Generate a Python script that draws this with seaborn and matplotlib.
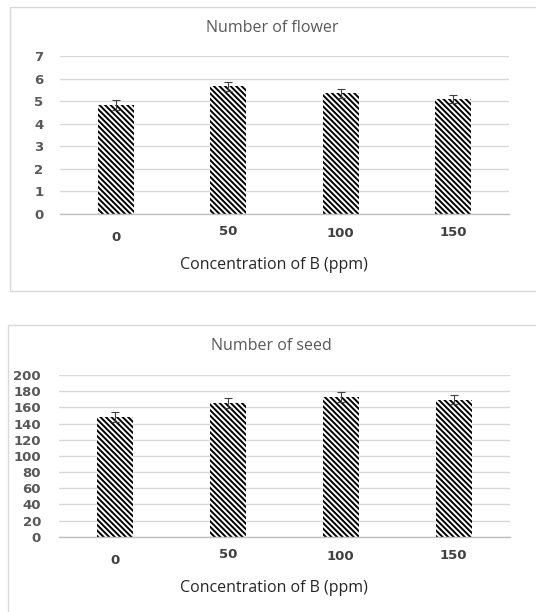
import matplotlib
matplotlib.use("Agg")
import matplotlib.pyplot as plt
import seaborn as sns
import pandas as pd
from matplotlib.patches import Rectangle
from matplotlib.transforms import ScaledTranslation

# Boron concentration treatments (ppm)
concentrations = ["0", "50", "100", "150"]

# Number of flowers: means and standard errors
flower_mean = [4.82, 5.66, 5.35, 5.09]
flower_err = [0.21, 0.21, 0.21, 0.17]

# Number of seeds: means and standard errors
seed_mean = [147.7, 165.4, 172.8, 169.5]
seed_err = [6.2, 6.0, 6.2, 5.8]

sns.set_theme(style="white")
plt.rcParams["font.family"] = ["Open Sans", "DejaVu Sans"]
plt.rcParams["hatch.color"] = "black"
plt.rcParams["hatch.linewidth"] = 1.4

W, H = 536, 612
fig = plt.figure(figsize=(W / 100, H / 100), dpi=100)
fig.patch.set_facecolor("white")

# panel frames
fig.add_artist(Rectangle((10 / W, 1 - 291 / H), 1.0, (291 - 7) / H,
                         transform=fig.transFigure, fill=False,
                         edgecolor="#d9d9d9", lw=1))
fig.add_artist(Rectangle((8 / W, -0.05), 1.0, 0.05 + 1 - 325 / H,
                         transform=fig.transFigure, fill=False,
                         edgecolor="#d9d9d9", lw=1))

tick_font = dict(family="DejaVu Sans", weight="bold", size=9.5)


def panel(rect, means, errs, ymax, ystep, title, title_pad, ylabel_pad):
    ax = fig.add_axes(rect)
    df = pd.DataFrame({"conc": concentrations, "value": means})
    sns.barplot(data=df, x="conc", y="value", order=concentrations,
                color="white", edgecolor="black", linewidth=0,
                hatch="\\\\\\\\\\\\", width=0.32, errorbar=None, ax=ax,
                zorder=2)
    ax.errorbar(range(len(means)), means, yerr=errs, fmt="none",
                ecolor="#3f3f3f", elinewidth=0.8, capsize=3.2,
                capthick=0.8, zorder=3)
    ax.set_xlim(-0.5, len(means) - 0.5)
    ax.set_ylim(0, ymax)
    ax.set_yticks(range(0, ymax + 1, ystep))
    ax.yaxis.grid(True, color="#d9d9d9", lw=1)
    ax.set_axisbelow(True)
    for s in ("top", "right", "left"):
        ax.spines[s].set_visible(False)
    ax.spines["bottom"].set_color("#bfbfbf")
    ax.spines["bottom"].set_linewidth(1)
    ax.set_xticks([i - 0.5 for i in range(len(means) + 1)], minor=True)
    ax.tick_params(axis="x", which="minor", length=4, color="#bfbfbf",
                   direction="out", width=1)
    ax.tick_params(axis="x", which="major", length=0, pad=8,
                   labelcolor="#404040")
    ax.tick_params(axis="y", length=0, pad=ylabel_pad,
                   labelcolor="#595959")
    for lbl in ax.get_xticklabels() + ax.get_yticklabels():
        lbl.set(**tick_font)
    for lbl, dy in zip(ax.get_xticklabels(), [6, 0, 2, 1]):
        lbl.set_transform(lbl.get_transform() +
                          ScaledTranslation(0, -dy / 100, fig.dpi_scale_trans))
    ax.set_title(title, x=0.472, pad=title_pad, fontsize=11.5,
                 color="#595959")
    ax.set_ylabel("")
    ax.set_xlabel("Concentration of B (ppm)", fontsize=11.5, color="#262626")
    ax.xaxis.set_label_coords(0.477, -0.27)
    return ax


panel([60 / W, 1 - 214 / H, 449 / W, 158 / H], flower_mean, flower_err,
      7, 1, "Number of flower", 17, 12)
panel([59 / W, 1 - 536.7 / H, 451 / W, 161.7 / H], seed_mean, seed_err,
      200, 20, "Number of seed", 18, 13)

fig.savefig("out.png", dpi=100)
